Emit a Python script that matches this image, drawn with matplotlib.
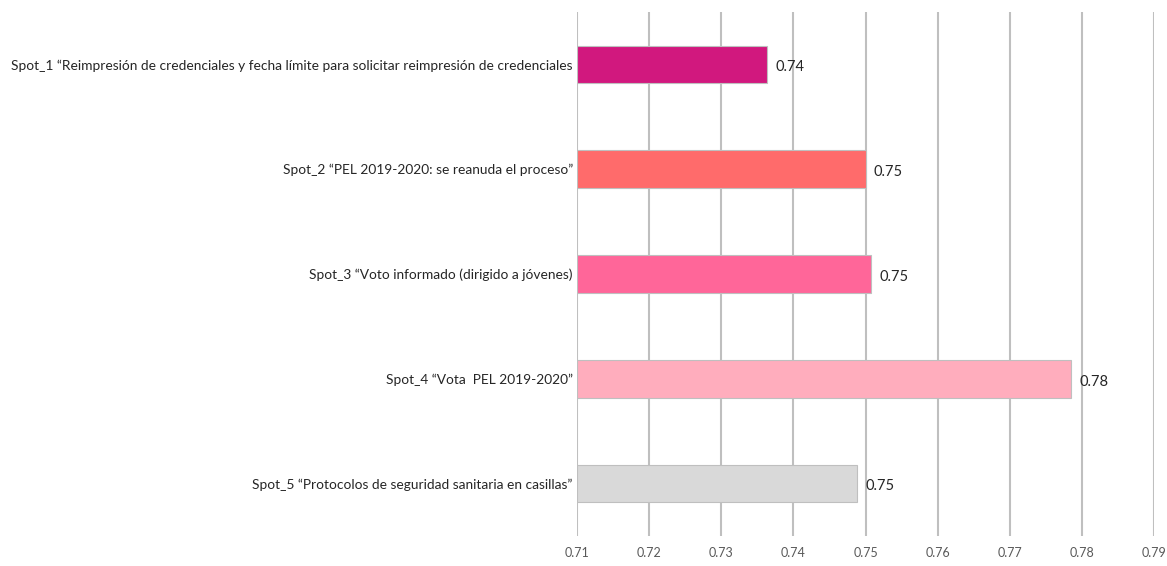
import matplotlib
matplotlib.use("Agg")
import matplotlib.pyplot as plt

categories = [
    "Spot_1 \u201cReimpresión de credenciales y fecha límite para solicitar reimpresión de credenciales",
    "Spot_2 \u201cPEL 2019-2020: se reanuda el proceso\u201d",
    "Spot_3 \u201cVoto informado (dirigido a jóvenes)",
    "Spot_4 \u201cVota  PEL 2019-2020\u201d",
    "Spot_5 \u201cProtocolos de seguridad sanitaria en casillas\u201d",
]
values = [0.7363, 0.7500, 0.7508, 0.7785, 0.7488]
value_labels = ["0.74", "0.75", "0.75", "0.78", "0.75"]
colors = ["#D1187E", "#FF6B6B", "#FF6699", "#FFADBD", "#D9D9D9"]
xticks = [0.71, 0.72, 0.73, 0.74, 0.75, 0.76, 0.77, 0.78, 0.79]

plt.rcParams['font.family'] = ['Lato', 'DejaVu Sans']

fig = plt.figure(figsize=(11.67, 5.66), dpi=100)
ax = fig.add_axes([577/1167, 1-536/566, (1154-577)/1167, (536-12)/566])

y = list(range(len(categories)))
base = 0.71
ax.barh(y, [v - base for v in values], left=base, height=0.36,
        color=colors, edgecolor="#BFBFBF", linewidth=0.8, zorder=3)

for yi, v, lab in zip(y, values, value_labels):
    ax.annotate(lab, (v, yi), xytext=(6, -2), textcoords="offset points",
                ha="left", va="center", fontsize=10.5, color="#262626", zorder=4)

ax.set_xlim(0.71, 0.79)
ax.set_ylim(4.5, -0.5)
ax.set_xticks(xticks)
ax.set_xticklabels([f"{t:.2f}" for t in xticks], fontsize=9, color="#595959")
ax.set_yticks(y)
ax.set_yticklabels(categories, fontsize=9.9, color="#262626")
ax.tick_params(axis="both", length=0)
ax.tick_params(axis="y", pad=3)
ax.tick_params(axis="x", pad=8)
ax.grid(axis="x", color="#BFBFBF", linewidth=1.5, zorder=0)
ax.grid(axis="y", visible=False)
for s in ax.spines.values():
    s.set_visible(False)

fig.savefig("out.png", dpi=100)
